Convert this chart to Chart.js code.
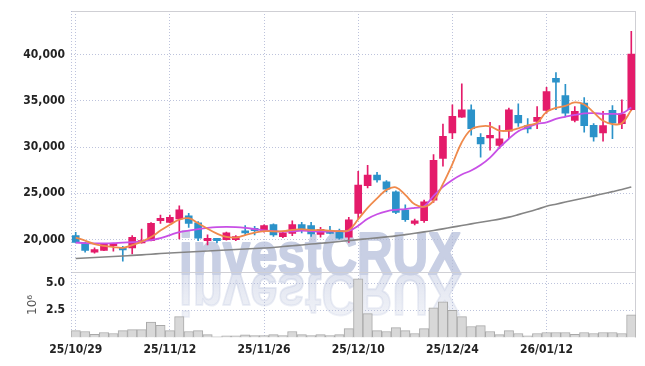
<!DOCTYPE html>
<html><head><meta charset="utf-8">
<script src="https://cdn.jsdelivr.net/npm/chart.js@4/dist/chart.umd.min.js"></script>
<style>html,body{margin:0;padding:0;background:#fff;}#wrap{width:645px;height:366px;}</style>
</head><body><div id="wrap"><canvas id="c" width="645" height="366"></canvas></div>
<script>
const dates = ["25/10/29","25/10/30","25/10/31","25/11/03","25/11/04","25/11/05","25/11/06","25/11/07","25/11/10","25/11/11",
"25/11/12","25/11/13","25/11/14","25/11/17","25/11/18","25/11/19","25/11/20","25/11/21","25/11/24","25/11/25",
"25/11/26","25/11/27","25/11/28","25/12/01","25/12/02","25/12/03","25/12/04","25/12/05","25/12/08","25/12/09",
"25/12/10","25/12/11","25/12/12","25/12/15","25/12/16","25/12/17","25/12/18","25/12/19","25/12/22","25/12/23",
"25/12/24","25/12/26","25/12/29","25/12/30","26/01/02","26/01/05","26/01/06","26/01/07","26/01/08","26/01/09",
"26/01/12","26/01/13","26/01/14","26/01/15","26/01/16","26/01/19","26/01/20","26/01/21","26/01/22","26/01/23"];
const opens  = [20430,19645,18635,18820,19355,19175,19110,19645,19890,22040,21860,22225,22580,21800,19890,20140,20000,20000,20890,21215,
20970,21610,20320,20680,21610,21505,20570,21000,20930,20250,22830,25840,26990,26235,25160,23190,21750,22040,24270,28780,
31535,33255,34050,31070,30995,30180,31720,33440,32330,32790,33975,37445,35590,32900,34760,32360,31535,33975,32545,34050];
const highs  = [20780,19700,19100,19570,19600,19280,20430,21150,21830,22650,22650,23655,22830,21935,20505,20140,20800,20430,21505,21430,
21600,21700,20800,22040,21860,21860,21320,21430,21150,22400,27385,28030,27280,26375,25270,23760,22225,24270,29210,32500,
34590,36845,34590,31470,32685,32330,34220,34700,33080,34400,36480,38060,36805,34400,35370,32545,33870,34510,35125,42540];
const lows   = [19650,18635,18530,18800,18745,17670,18460,19600,19850,21750,21800,20075,21320,19890,19430,19645,19950,19890,20505,20505,
20800,20350,20200,20430,20720,20350,20250,20610,20050,19680,22225,25590,26200,25160,22800,21970,21580,21860,24010,27955,
30930,33220,31290,28920,29675,29860,30995,32255,31535,32000,33685,34050,33330,32720,31610,30640,30640,30930,32010,33950];
const closes = [19680,18820,18925,19535,19535,18890,20250,19890,21750,22290,22400,23225,21750,20160,20140,19890,20720,20320,20720,20970,
21505,20505,20720,21610,20970,20610,21110,20680,20160,22130,25910,26990,26450,25450,22935,22150,22040,24085,28570,31180,
33330,34050,32010,30350,31290,30890,34050,32610,31965,33220,36020,37020,33685,33870,32330,31100,32330,32610,33580,40070];
// volume in millions (10^6)
const volumes = [0.64,0.55,0.30,0.46,0.37,0.64,0.73,0.73,1.43,1.13,0.64,1.92,0.55,0.64,0.27,0.06,0.15,0.15,0.24,0.18,
0.18,0.27,0.18,0.55,0.27,0.18,0.27,0.18,0.27,0.82,5.40,2.20,0.64,0.55,0.91,0.64,0.37,0.82,2.74,3.29,
2.50,1.92,1.01,1.10,0.55,0.27,0.64,0.37,0.15,0.37,0.46,0.46,0.46,0.30,0.46,0.37,0.46,0.46,0.37,2.10];
const ma5 = [20215,19890,19515,19320,19195,19110,19410,19785,20270,20970,21610,22150,22310,21775,21180,20645,20290,20215,20485,20750,
20915,20890,20915,21040,21130,21020,21040,20970,20915,21020,22200,23440,24460,25375,25645,24840,23815,23550,24190,26020,
28170,30535,31930,32255,32255,31790,31790,32040,32360,32630,33815,34245,34460,34835,34620,33760,32845,32500,32580,34030];
const ma20 = [19680,19625,19600,19600,19625,19680,19710,19785,19945,20160,20485,20805,20970,21130,21260,21345,21375,21345,21260,21130,
20990,20915,20860,20890,20970,20915,20860,20880,20915,20945,21505,22255,22740,23065,23225,23300,23440,23600,24730,25700,
26450,27040,27470,28060,28870,29945,30910,31720,32150,32525,32685,33060,33280,33490,33650,33685,33600,33600,33650,34300];
const maLong = [17955,18010,18060,18120,18170,18225,18290,18350,18420,18490,18550,18600,18650,18710,18760,18820,18870,18930,18980,19030,
19085,19150,19250,19330,19420,19515,19600,19690,19790,19890,20000,20090,20190,20290,20400,20540,20680,20830,20990,21160,
21345,21520,21700,21870,22040,22210,22430,22700,22980,23280,23600,23830,24060,24280,24500,24730,24960,25190,25420,25700];
const priceTicks = [20000,25000,30000,35000,40000];
const volumeTicks = [2.5,5.0];
const labelEvery = 10;

const UP = '#e41b6a', DOWN = '#2b92c9';
const candleColors = opens.map((o,i)=> closes[i] >= o ? UP : DOWN);
const gridColor = 'rgba(178,184,214,0.85)';
const FONT = "'DejaVu Sans Condensed',sans-serif";

const watermark = {
  id:'watermark',
  beforeDraw(chart){
    const ctx = chart.ctx, ca = chart.chartArea;
    const vy = chart.scales.yv.top;
    ctx.save();
    ctx.beginPath(); ctx.rect(ca.left, ca.top, ca.right-ca.left, ca.bottom-ca.top); ctx.clip();
    ctx.font = "bold 60px 'Liberation Sans', Arial, sans-serif";
    ctx.textBaseline = 'alphabetic';
    const txt = 'investCRUX';
    const w = ctx.measureText(txt).width;
    const target = 282, sx = target / w, x0 = 179, base = vy + 2;
    ctx.lineJoin = 'round';
    ctx.save();
    ctx.translate(x0, base); ctx.scale(sx, 1);
    ctx.fillStyle = 'rgb(200,207,228)'; ctx.strokeStyle = 'rgb(200,207,228)'; ctx.lineWidth = 2;
    ctx.fillText(txt, 0, 0); ctx.strokeText(txt, 0, 0);
    ctx.restore();
    ctx.save();
    ctx.translate(x0, base); ctx.scale(sx, -1);
    const g = ctx.createLinearGradient(0, 0, 0, -45);
    g.addColorStop(0, 'rgba(200,207,228,0.55)');
    g.addColorStop(1, 'rgba(200,207,228,0.25)');
    ctx.fillStyle = g; ctx.strokeStyle = g; ctx.lineWidth = 2;
    ctx.fillText(txt, 0, 0); ctx.strokeText(txt, 0, 0);
    ctx.restore();
    ctx.restore();
  }
};
const frame = {
  id:'frame',
  beforeDatasetsDraw(chart){
    const ctx = chart.ctx, ca = chart.chartArea, vy = chart.scales.yv.top;
    ctx.save();
    ctx.strokeStyle = '#cfcfd4'; ctx.lineWidth = 1;
    ctx.beginPath();
    ctx.moveTo(ca.left, ca.top+0.5); ctx.lineTo(ca.right, ca.top+0.5);
    ctx.moveTo(ca.right-0.5, ca.top); ctx.lineTo(ca.right-0.5, ca.bottom);
    ctx.moveTo(ca.left, Math.round(vy)+0.5); ctx.lineTo(ca.right, Math.round(vy)+0.5);
    ctx.stroke();
    ctx.setLineDash([1,2]); ctx.strokeStyle = gridColor;
    ctx.beginPath(); ctx.moveTo(ca.left+0.5, ca.top); ctx.lineTo(ca.left+0.5, ca.bottom); ctx.stroke();
    ctx.restore();
  }
};

Chart.defaults.font.family = FONT;
Chart.defaults.font.size = 12;
Chart.defaults.font.weight = 'bold';
Chart.defaults.color = '#222';

new Chart(document.getElementById('c'), {
  type:'bar',
  data:{
    labels: dates,
    datasets:[
      {type:'line', label:'MA5', data:ma5, borderColor:'#ef8a4c', borderWidth:1.8, pointRadius:0, tension:0.4, yAxisID:'y', order:0},
      {type:'line', label:'MA20', data:ma20, borderColor:'#c850e6', borderWidth:1.8, pointRadius:0, tension:0.4, yAxisID:'y', order:1},
      {type:'line', label:'MA', data:maLong, borderColor:'#858585', borderWidth:1.6, pointRadius:0, tension:0.3, yAxisID:'y', order:1},
      {label:'body', data:opens.map((o,i)=>[o,closes[i]]), backgroundColor:candleColors, barThickness:7, grouped:false, minBarLength:2, yAxisID:'y', order:2},
      {label:'wick', data:lows.map((l,i)=>[l,highs[i]]), backgroundColor:candleColors, barThickness:1, grouped:false, yAxisID:'y', order:3},
      {label:'volume', data:volumes, backgroundColor:'#d8d8d8', borderColor:'#a9a9a9', borderWidth:1, barPercentage:1, categoryPercentage:1, grouped:false, yAxisID:'yv', order:4}
    ]
  },
  options:{
    responsive:false, animation:false, devicePixelRatio:1,
    layout:{padding:{top:11,right:9,left:0,bottom:0}},
    plugins:{legend:{display:false}, tooltip:{enabled:false}},
    scales:{
      x:{
        type:'category', offset:true,
        grid:{offset:false, color:gridColor, drawTicks:false},
        border:{display:false, dash:[1,2]},
        ticks:{autoSkip:false, maxRotation:0, padding:5},
        afterBuildTicks(s){ s.ticks = s.ticks.filter(t=> t.value % labelEvery === 0); },
        afterFit(s){ s.height = 28.5; s.paddingLeft = 0; s.paddingRight = 0; }
      },
      y:{
        type:'linear', position:'left', stack:'main', stackWeight:263, weight:2,
        min:16450, max:44730,
        grid:{color:gridColor, drawTicks:false},
        border:{display:false, dash:[1,2]},
        ticks:{padding:6, callback:v=> v.toLocaleString('en-US')},
        afterBuildTicks(s){ s.ticks = priceTicks.map(v=>({value:v})); },
        afterFit(s){ s.width = 71; s.paddingTop = 0; s.paddingBottom = 0; }
      },
      yv:{
        type:'linear', position:'left', stack:'main', stackWeight:65.5, weight:1,
        min:0, max:6.0,
        grid:{color:gridColor, drawTicks:false},
        border:{display:false, dash:[1,2]},
        ticks:{padding:6, callback:v=> v.toFixed(1)},
        title:{display:true, text:'10\u2076', color:'#555', font:{size:12, weight:'normal', family:"'DejaVu Sans',sans-serif"}, padding:{top:26,bottom:0}},
        afterBuildTicks(s){ s.ticks = volumeTicks.map(v=>({value:v})); },
        afterFit(s){ s.width = 71; s.paddingTop = 0; s.paddingBottom = 0; }
      }
    }
  },
  plugins:[watermark, frame]
});
</script></body></html>
